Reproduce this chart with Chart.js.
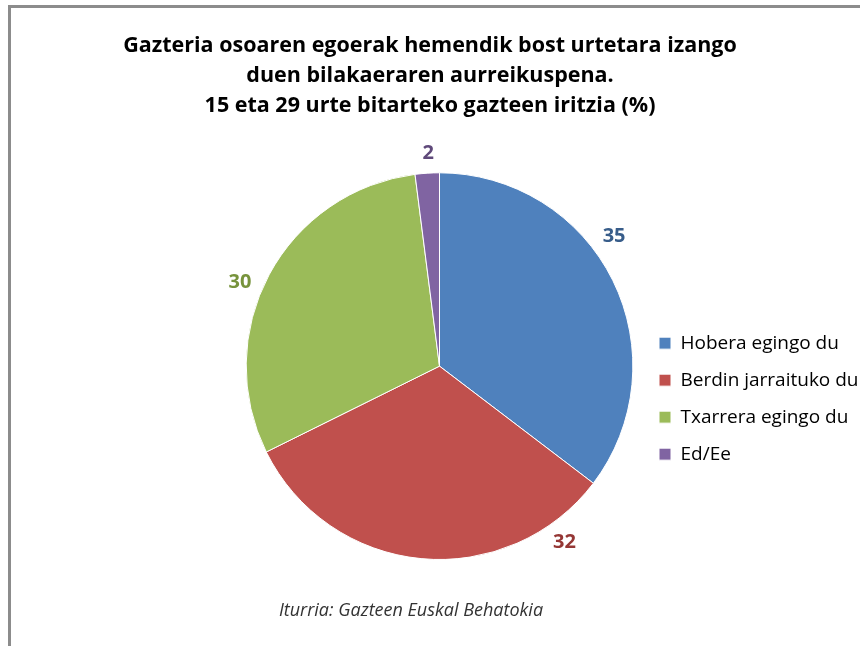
<!DOCTYPE html>
<html><head><meta charset="utf-8">
<script src="https://cdn.jsdelivr.net/npm/chart.js@4/dist/chart.umd.min.js"></script>
<style>
html,body{margin:0;padding:0;background:#fff;}
#wrap{position:relative;width:860px;height:646px;overflow:hidden;background:#fff;}
#frame{position:absolute;left:8px;top:5px;width:900px;height:700px;border-left:3px solid #8c8c8c;border-top:3px solid #8c8c8c;pointer-events:none;}
canvas{position:absolute;left:0;top:0;}
</style></head><body>
<div id="wrap"><canvas id="c" width="860" height="646"></canvas><div id="frame"></div></div>
<script>
const categories = ['Hobera egingo du', 'Berdin jarraituko du', 'Txarrera egingo du', 'Ed/Ee'];
const values = [35, 32, 30, 2];
const sliceColors = ['#4F81BD', '#C0504D', '#9BBB59', '#8064A2'];
const labelColors = ['#385D8A', '#953735', '#77933C', '#5F497A'];
const titleLines = ['Gazteria osoaren egoerak hemendik bost urtetara izango', 'duen bilakaeraren aurreikuspena.', '15 eta 29 urte bitarteko gazteen iritzia (%)'];
const sourceText = 'Iturria: Gazteen Euskal Behatokia';

// layout helpers (styles, not data)
const FONT = '"Open Sans"';
const legendFontSize = 19;
const legendPad = 18;
const boxW = 12;
const pieCenterX = 439.5;
const legendMaxW = 219;

const mctx = document.createElement('canvas').getContext('2d');
mctx.font = legendFontSize + 'px ' + FONT;
let maxTextW = 0;
categories.forEach(t => { maxTextW = Math.max(maxTextW, mctx.measureText(t).width); });
const legendW = Math.min(legendPad + boxW + legendFontSize / 2 + maxTextW + 10, legendMaxW);
const spacerW = 2 * pieCenterX - (860 - legendW);

const labelPlugin = {
  id: 'sliceLabels',
  afterDatasetsDraw(chart, args, opts) {
    const ctx = chart.ctx;
    const meta = chart.getDatasetMeta(0);
    const ds = chart.data.datasets[0];
    ctx.save();
    ctx.font = 'bold 20px ' + FONT;
    ctx.textAlign = 'center';
    ctx.textBaseline = 'middle';
    meta.data.forEach((arc, i) => {
      const p = arc.getProps(['x', 'y', 'startAngle', 'endAngle', 'outerRadius'], true);
      const a = p.startAngle + opts.fractions[i] * (p.endAngle - p.startAngle);
      const r = p.outerRadius + opts.offsets[i];
      ctx.fillStyle = labelColors[i];
      ctx.fillText(String(ds.data[i]), p.x + Math.cos(a) * r, p.y + Math.sin(a) * r);
    });
    // source note
    ctx.font = 'italic 18px ' + FONT;
    ctx.fillStyle = '#333';
    ctx.fillText(sourceText, opts.sourceX, opts.sourceY);
    ctx.restore();
  }
};

new Chart(document.getElementById('c'), {
  type: 'pie',
  data: {
    labels: categories,
    datasets: [{
      data: values,
      backgroundColor: sliceColors,
      borderColor: '#ffffff',
      borderWidth: 1,
      hoverOffset: 0
    }]
  },
  plugins: [labelPlugin],
  options: {
    responsive: false,
    animation: false,
    events: [],
    layout: { padding: { top: 0, left: 0, right: 0, bottom: 86 } },
    plugins: {
      title: {
        display: true,
        text: titleLines,
        color: '#000',
        font: { family: FONT, size: 21.5, weight: 'bold', lineHeight: 1.4 },
        padding: { top: 31, bottom: 51 }
      },
      subtitle: {
        display: true,
        position: 'left',
        fullSize: false,
        text: ' ',
        color: 'rgba(0,0,0,0)',
        font: { size: 10, lineHeight: 1 },
        padding: { top: spacerW - 10, bottom: 0 }
      },
      legend: {
        position: 'right',
        fullSize: false,
        align: 'center',
        maxWidth: legendMaxW,
        title: {
          display: true,
          text: ' ',
          color: 'rgba(0,0,0,0)',
          font: { size: 10, lineHeight: 1 },
          padding: { top: 0, bottom: 55 }
        },
        labels: {
          color: '#000',
          boxWidth: boxW,
          boxHeight: 12,
          padding: legendPad,
          font: { family: FONT, size: legendFontSize }
        }
      },
      tooltip: { enabled: false },
      sliceLabels: {
        fractions: [0.42, 0.15, 0.45, 0.58],
        offsets: [24, 23, 23, 20],
        sourceX: 411,
        sourceY: 611
      }
    }
  }
});
</script>
</body></html>
